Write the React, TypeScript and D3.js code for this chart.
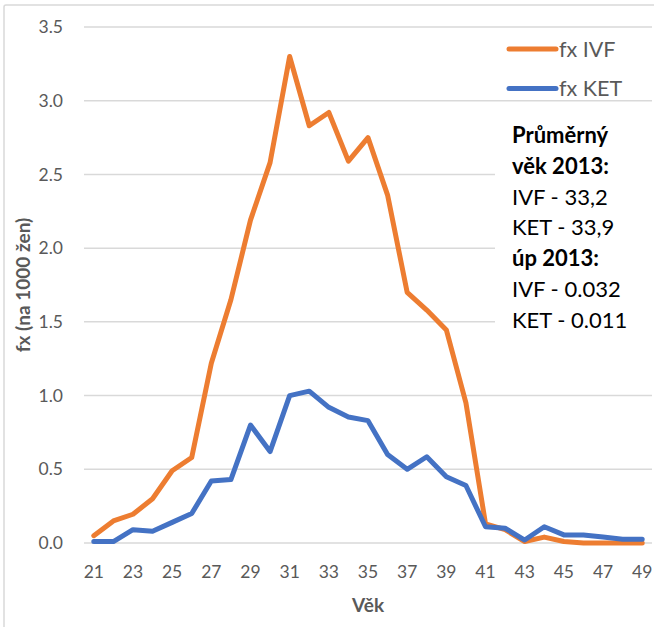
import React from "react";
import * as d3 from "d3";

const ages = [21,22,23,24,25,26,27,28,29,30,31,32,33,34,35,36,37,38,39,40,41,42,43,44,45,46,47,48,49];
const ivf = [0.05,0.15,0.195,0.30,0.49,0.58,1.22,1.65,2.19,2.58,3.30,2.83,2.92,2.59,2.75,2.36,1.70,1.58,1.445,0.95,0.13,0.09,0.01,0.04,0.01,0.0,0.0,0.0,0.0];
const ket = [0.01,0.01,0.09,0.08,0.14,0.20,0.42,0.43,0.80,0.62,1.00,1.03,0.92,0.855,0.83,0.60,0.50,0.585,0.45,0.39,0.11,0.10,0.02,0.11,0.055,0.055,0.04,0.025,0.025];
const yTicks = [0,0.5,1,1.5,2,2.5,3,3.5];
const xTickLabels = [21,23,25,27,29,31,33,35,37,39,41,43,45,47,49];
const seriesNames = ["fx IVF","fx KET"];
const seriesColors = ["#ED7D31","#4472C4"];
const noteLines: [string, boolean][] = [
  ["Průměrný", true],
  ["věk 2013:", true],
  ["IVF - 33,2", false],
  ["KET - 33,9", false],
  ["úp 2013:", true],
  ["IVF - 0.032", false],
  ["KET - 0.011", false],
];

const W = 654, H = 627;
const left = 84, right = 652, top = 27, bottom = 543;
const font = "Lato, 'Open Sans', sans-serif";
const gray = "#595959";

export default function App() {
  const x = d3.scalePoint<number>().domain(ages).range([left, right]).padding(0.5);
  const y = d3.scaleLinear().domain([0, 3.5]).range([bottom, top]);
  const line = d3.line<number>().x((_, i) => x(ages[i])!).y(d => y(d));
  const series = [ivf, ket];
  return (
    <svg width={W} height={H} style={{ position: "absolute", left: 0, top: 0, background: "#fff" }} fontFamily={font}>
      <rect x={0} y={0} width={W} height={H} fill="#fff" />
      <rect x={4} y={5} width={W + 20} height={H + 20} fill="#fff" stroke="#d9d9d9" strokeWidth={1.5} rx={2} />
      {yTicks.map(t => (
        <g key={t}>
          <line x1={left} x2={right} y1={y(t)} y2={y(t)} stroke="#d9d9d9" strokeWidth={1.5} />
          <text x={63} y={y(t)} dy="0.35em" textAnchor="end" fontSize={17.5} fill={gray}>{t.toFixed(1)}</text>
        </g>
      ))}
      {xTickLabels.map(a => (
        <text key={a} x={x(a)} y={578} textAnchor="middle" fontSize={17.5} fill={gray}>{a}</text>
      ))}
      <text x={(left + right) / 2} y={612} textAnchor="middle" fontSize={19} fontWeight="bold" fill={gray}>Věk</text>
      <text transform={`translate(30,${(top + bottom) / 2}) rotate(-90)`} textAnchor="middle" fontSize={19} fontWeight="bold" fill={gray}>fx (na 1000 žen)</text>
      <rect x={495} y={104} width={170} height={236} fill="#fff" />
      {series.map((s, i) => (
        <path key={i} d={line(s) || ""} fill="none" stroke={seriesColors[i]} strokeWidth={5} strokeLinejoin="round" strokeLinecap="round" />
      ))}
      {seriesNames.map((n, i) => (
        <g key={n}>
          <line x1={509} x2={556} y1={49 + i * 39.5} y2={49 + i * 39.5} stroke={seriesColors[i]} strokeWidth={5} strokeLinecap="round" />
          <text x={559} y={57 + i * 39} fontSize={21.5} fill={gray}>{n}</text>
        </g>
      ))}
      {noteLines.map(([t, b], i) => (
        <text key={i} x={512} y={143 + i * 30.8} fontSize={22} fontWeight={b ? "bold" : "normal"} fill="#000">{t}</text>
      ))}
    </svg>
  );
}
